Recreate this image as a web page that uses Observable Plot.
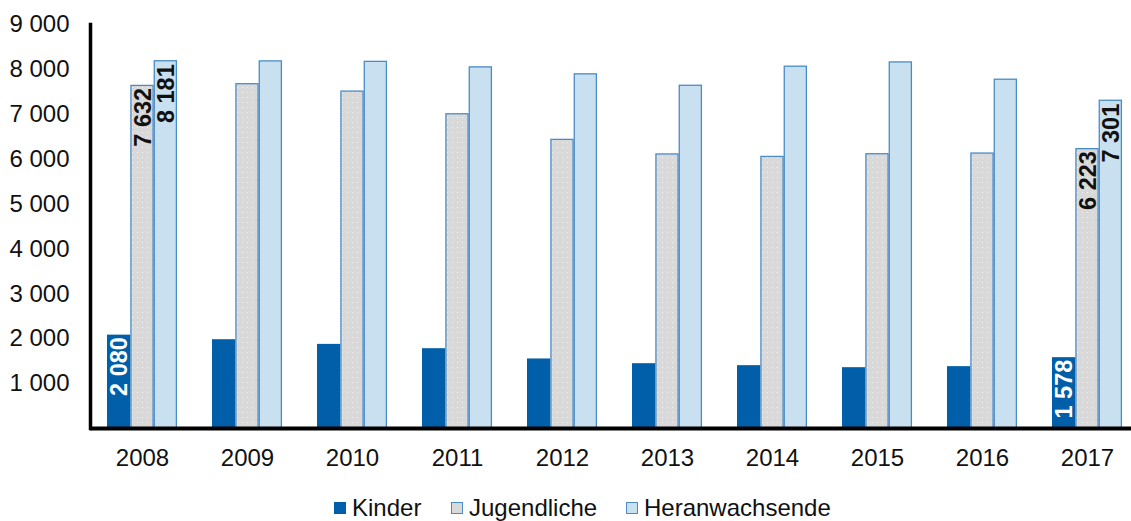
<!DOCTYPE html>
<html>
<head>
<meta charset="utf-8">
<script src="https://cdn.jsdelivr.net/npm/d3@7"></script>
<script src="https://cdn.jsdelivr.net/npm/@observablehq/plot@0.6"></script>
<style>
  html, body { margin: 0; padding: 0; background: #fff; }
  #wrap { position: relative; width: 1131px; height: 521px; font-family: "Liberation Sans", Arial, sans-serif; }
  .leg { position: absolute; top: 496px; height: 24px; display: flex; align-items: center; font-size: 24px; color: #111; }
  .sw { width: 12px; height: 12px; margin-right: 6px; box-sizing: border-box; }
</style>
</head>
<body>
<svg width="0" height="0" style="position:absolute">
  <defs>
    <pattern id="dots" width="5" height="5" patternUnits="userSpaceOnUse">
      <rect width="5" height="5" fill="#d9d9d9"></rect>
      <rect x="2" y="2" width="1" height="1" fill="#f2f2f2"></rect>
    </pattern>
  </defs>
</svg>
<div id="wrap">
  <div id="chart"></div>
</div>
<script>
const years = ["2008","2009","2010","2011","2012","2013","2014","2015","2016","2017"];
const kinder = [2080, 1978, 1874, 1778, 1549, 1444, 1400, 1355, 1378, 1578];
const jugendliche = [7632, 7670, 7505, 7000, 6430, 6105, 6050, 6110, 6125, 6223];
const heranwachsende = [8181, 8178, 8168, 8045, 7890, 7635, 8060, 8155, 7770, 7301];
const labeledYears = ["2008", "2017"];
const yTicks = [1000, 2000, 3000, 4000, 5000, 6000, 7000, 8000, 9000];
const seriesNames = ["Kinder", "Jugendliche", "Heranwachsende"];

const colors = {
  Kinder: {fill: "#005fa8", stroke: "none"},
  Jugendliche: {fill: "url(#dots)", stroke: "#4a8cc6"},
  Heranwachsende: {fill: "#c8e0ef", stroke: "#4a8cc6"}
};

const fmt = d3.formatLocale({thousands: " ", grouping: [3], decimal: ","}).format(",d");

const rowsK = years.map((y, i) => ({year: y, value: kinder[i]}));
const rowsJ = years.map((y, i) => ({year: y, value: jugendliche[i]}));
const rowsH = years.map((y, i) => ({year: y, value: heranwachsende[i]}));

const bw = 70 / 3;
const font = "'Liberation Sans', Arial, sans-serif";

const chart = Plot.plot({
  width: 1131,
  height: 485,
  marginLeft: 90,
  marginRight: 0,
  marginTop: 24,
  marginBottom: 57,
  style: {fontFamily: font, fontSize: "24px", color: "#111", background: "white"},
  x: {domain: years, range: [89.5, 1139.5], paddingInner: 1/3, paddingOuter: 1/6, label: null},
  y: {domain: [0, 9000], label: null},
  marks: [
    Plot.barY(rowsK, {x: "year", y: "value", fill: colors.Kinder.fill, insetRight: 2 * bw}),
    Plot.barY(rowsJ, {x: "year", y: "value", fill: colors.Jugendliche.fill, stroke: colors.Jugendliche.stroke, strokeWidth: 1.3, insetLeft: bw + 0.6, insetRight: bw + 0.6}),
    Plot.barY(rowsH, {x: "year", y: "value", fill: colors.Heranwachsende.fill, stroke: colors.Heranwachsende.stroke, strokeWidth: 1.3, insetLeft: 2 * bw + 0.6, insetRight: 0.6}),
    Plot.text(rowsK.filter(d => labeledYears.includes(d.year)), {x: "year", y: "value", text: d => fmt(d.value), rotate: -90, textAnchor: "end", dx: -bw, dy: 2, fill: "white", fontWeight: "bold", fontSize: 23.5}),
    Plot.text(rowsJ.filter(d => labeledYears.includes(d.year)), {x: "year", y: "value", text: d => fmt(d.value), rotate: -90, textAnchor: "end", dx: 0.5, dy: 2, fill: "#111", fontWeight: "bold", fontSize: 23.5}),
    Plot.text(rowsH.filter(d => labeledYears.includes(d.year)), {x: "year", y: "value", text: d => fmt(d.value), rotate: -90, textAnchor: "end", dx: bw + 0.5, dy: 3, fill: "#111", fontWeight: "bold", fontSize: 23.5}),
    Plot.axisY({ticks: yTicks, tickFormat: fmt, tickSize: 0, tickPadding: 21, label: null, fontSize: 24}),
    Plot.axisX({tickSize: 0, tickPadding: 20, label: null, fontSize: 24}),
    Plot.ruleY([0], {stroke: "black", strokeWidth: 4}),
    Plot.frame({anchor: "left", stroke: "black", strokeWidth: 3.5})
  ]
});
document.getElementById("chart").appendChild(chart);

const legendPos = {Kinder: 334, Jugendliche: 451, Heranwachsende: 626};
const wrap = document.getElementById("wrap");
seriesNames.forEach(name => {
  const item = document.createElement("div");
  item.className = "leg";
  item.style.left = legendPos[name] + "px";
  const sw = document.createElement("div");
  sw.className = "sw";
  const c = colors[name];
  sw.style.background = name === "Jugendliche" ? "#d9d9d9" : c.fill;
  if (c.stroke !== "none") sw.style.border = "1.5px solid " + c.stroke;
  item.appendChild(sw);
  const t = document.createElement("span");
  t.textContent = name;
  item.appendChild(t);
  wrap.appendChild(item);
});
</script>
</body>
</html>
